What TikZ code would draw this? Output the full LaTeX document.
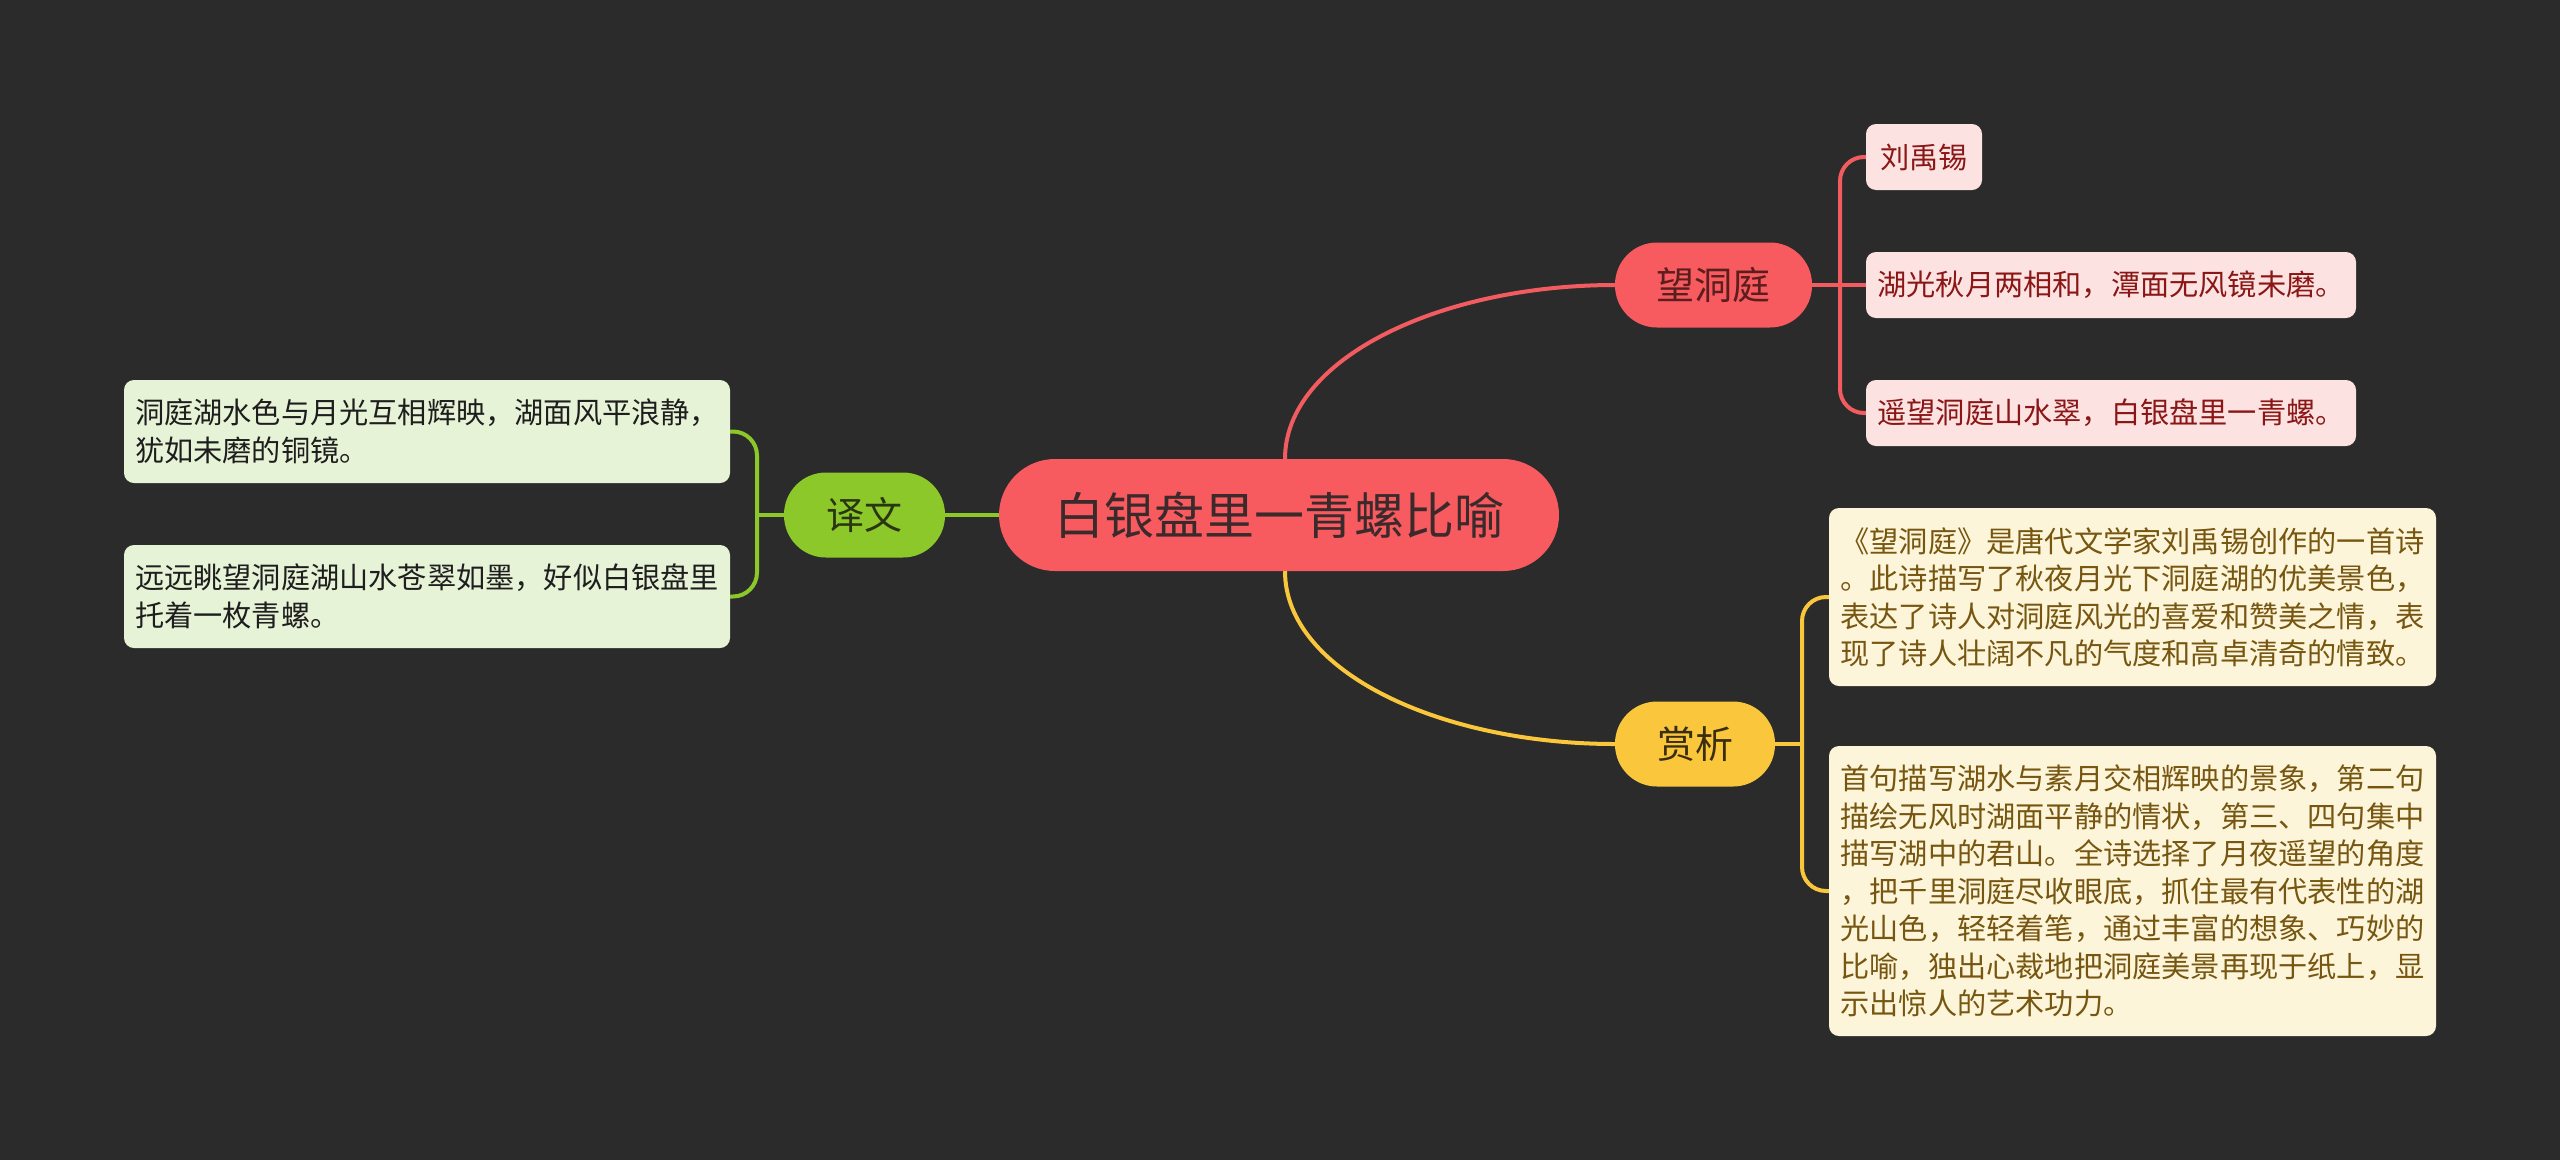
\documentclass[tikz,border=0pt]{standalone}
\usepackage{fontspec}
\setmainfont{Noto Sans CJK SC}
\usetikzlibrary{calc}
\definecolor{bg}{HTML}{2B2B2B}
\definecolor{cRed}{HTML}{F75A5F}
\definecolor{cRedLine}{HTML}{F25C60}
\definecolor{cTopicText}{HTML}{3B2A2B}
\definecolor{cRedText}{HTML}{5A1E1E}
\definecolor{cRedLeaf}{HTML}{FDE2E2}
\definecolor{cRedLeafText}{HTML}{8A1616}
\definecolor{cYel}{HTML}{F9C63C}
\definecolor{cYelText}{HTML}{3A2E10}
\definecolor{cYelLeaf}{HTML}{FDF5D9}
\definecolor{cYelLeafText}{HTML}{765610}
\definecolor{cGrn}{HTML}{8CC82A}
\definecolor{cGrnText}{HTML}{2A3512}
\definecolor{cGrnLeaf}{HTML}{E7F3D7}
\definecolor{cGrnLeafText}{HTML}{1E1E1E}
\begin{document}
\begin{tikzpicture}[x=1pt,y=-1pt,
  topic/.style={fill=cRed, text=cTopicText, minimum width=560pt, minimum height=112pt,
    rounded corners=56pt, inner sep=0pt, font=\fontsize{50}{58}\selectfont},
  branchnode/.style={rounded corners=42pt, minimum height=85pt, inner sep=0pt,
    font=\fontsize{38}{44}\selectfont},
  leaf/.style={rounded corners=10pt, inner sep=0pt, align=left,
    font=\fontsize{29.2}{37.5}\selectfont},
  redline/.style={draw=cRedLine, line width=4pt},
  yelline/.style={draw=cYel, line width=4pt},
  grnline/.style={draw=cGrn, line width=4pt}]
\fill[bg] (0,0) rectangle (2560,1160);
\useasboundingbox (0,0) rectangle (2560,1160);

% main nodes
\node[topic] (c) at (1279,515) {白银盘里一青螺比喻};
\node[branchnode, fill=cRed, text=cRedText, minimum width=197pt] (w) at (1713.5,285) {望洞庭};
\node[branchnode, fill=cYel, text=cYelText, minimum width=160pt] (s) at (1695,744) {赏析};
\node[branchnode, fill=cGrn, text=cGrnText, minimum width=161pt] (y) at (864.5,515) {译文};

% red leaves
\node[leaf, fill=cRedLeaf, text=cRedLeafText, minimum width=116pt, minimum height=66pt] (l1) at (1924,157) {刘禹锡};
\node[leaf, fill=cRedLeaf, text=cRedLeafText, minimum width=490pt, minimum height=66pt] (l2) at (2111,285) {湖光秋月两相和，潭面无风镜未磨。};
\node[leaf, fill=cRedLeaf, text=cRedLeafText, minimum width=490pt, minimum height=66pt] (l3) at (2111,413) {遥望洞庭山水翠，白银盘里一青螺。};

% yellow leaves
\node[leaf, fill=cYelLeaf, text=cYelLeafText, minimum width=607pt, minimum height=178pt] (s1) at (2132.5,597) {《望洞庭》是唐代文学家刘禹锡创作的一首诗\\。此诗描写了秋夜月光下洞庭湖的优美景色，\\表达了诗人对洞庭风光的喜爱和赞美之情，表\\现了诗人壮阔不凡的气度和高卓清奇的情致。};
\node[leaf, fill=cYelLeaf, text=cYelLeafText, minimum width=607pt, minimum height=290pt] (s2) at (2132.5,891) {首句描写湖水与素月交相辉映的景象，第二句\\描绘无风时湖面平静的情状，第三、四句集中\\描写湖中的君山。全诗选择了月夜遥望的角度\\，把千里洞庭尽收眼底，抓住最有代表性的湖\\光山色，轻轻着笔，通过丰富的想象、巧妙的\\比喻，独出心裁地把洞庭美景再现于纸上，显\\示出惊人的艺术功力。};

% green leaves
\node[leaf, fill=cGrnLeaf, text=cGrnLeafText, minimum width=606pt, minimum height=103pt] (y1) at (427,431.5) {洞庭湖水色与月光互相辉映，湖面风平浪静，\\犹如未磨的铜镜。};
\node[leaf, fill=cGrnLeaf, text=cGrnLeafText, minimum width=606pt, minimum height=103pt] (y2) at (427,596.5) {远远眺望洞庭湖山水苍翠如墨，好似白银盘里\\托着一枚青螺。};

% junctions
\coordinate (wj) at (1840,285);
\coordinate (sj) at (1802,744);
\coordinate (yj) at (757,515);

% main connectors
\draw[redline] ([xshift=6pt]c.north) .. controls +(0,-100) and +(-175,0) .. (w.west);
\draw[yelline] ([xshift=6pt]c.south) .. controls +(0,100) and +(-175,0) .. (s.west);
\draw[grnline] (c.west) -- (y.east);

% red sub-branches
\draw[redline] (w.east) -- (l2.west);
\draw[redline, rounded corners=24pt] (l1.west) -| (wj);
\draw[redline, rounded corners=24pt] (l3.west) -| (wj);

% yellow sub-branches
\draw[yelline] (s.east) -- (sj);
\draw[yelline, rounded corners=24pt] (s1.west) -| (sj);
\draw[yelline, rounded corners=24pt] (s2.west) -| (sj);

% green sub-branches
\draw[grnline] (y.west) -- (yj);
\draw[grnline, rounded corners=24pt] (y1.east) -| (yj);
\draw[grnline, rounded corners=24pt] (y2.east) -| (yj);
\end{tikzpicture}
\end{document}
